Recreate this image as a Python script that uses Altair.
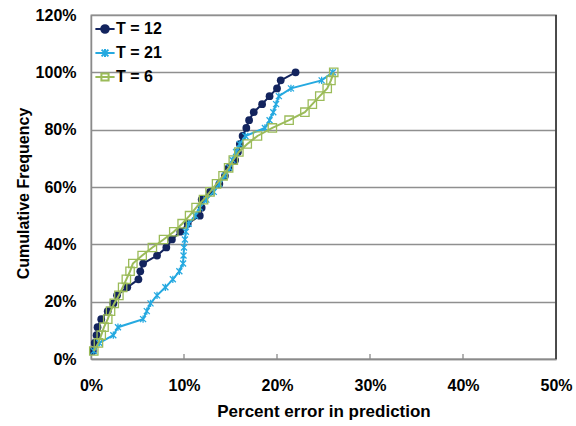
import altair as alt
import pandas as pd

series_names = ["T = 12", "T = 21", "T = 6"]
colors = ["#13245E", "#25A9E0", "#9BBB59"]

# cumulative frequency (%) shared by the three series
cum_freq = [2.8, 5.6, 8.3, 11.1, 13.9, 16.7, 19.4, 22.2, 25.0, 27.8, 30.6, 33.3,
            36.1, 38.9, 41.7, 44.4, 47.2, 50.0, 52.8, 55.6, 58.3, 61.1, 63.9, 66.7,
            69.4, 72.2, 75.0, 77.8, 80.6, 83.3, 86.1, 88.9, 91.7, 94.4, 97.2, 100.0]

# percent error in prediction (%)
err_t12 = [0.2, 0.4, 0.6, 0.7, 1.1, 1.8, 2.4, 2.8, 3.9, 5.1, 5.3, 5.6,
           7.1, 8.1, 8.7, 9.6, 10.4, 11.7, 11.9, 11.9, 12.8, 13.8, 14.4, 14.8,
           15.5, 15.8, 16.0, 16.3, 16.7, 17.0, 17.5, 18.4, 19.2, 20.0, 20.4, 22.0]
err_t21 = [0.3, 0.9, 2.4, 2.9, 5.6, 6.0, 6.4, 7.1, 8.0, 8.8, 9.5, 9.9,
           9.95, 10.0, 10.1, 10.2, 10.5, 11.2, 11.7, 12.4, 13.2, 13.8, 14.4, 14.9,
           15.2, 15.6, 16.0, 16.6, 18.7, 19.2, 19.6, 19.9, 20.2, 21.5, 24.8, 26.0]
err_t6 = [0.3, 0.8, 1.1, 1.4, 1.8, 2.1, 2.5, 3.0, 3.4, 3.8, 4.2, 4.5,
          5.5, 6.6, 7.8, 8.9, 9.8, 10.6, 11.3, 12.1, 12.8, 13.5, 14.2, 14.8,
          15.3, 15.9, 16.8, 17.9, 19.5, 21.3, 23.0, 23.8, 24.6, 25.4, 25.8, 26.1]

x_ticks = [0, 0.1, 0.2, 0.3, 0.4, 0.5]
y_ticks = [0, 0.2, 0.4, 0.6, 0.8, 1.0, 1.2]

rows = []
for name, xs in zip(series_names, [err_t12, err_t21, err_t6]):
    for i, (xv, yv) in enumerate(zip(xs, cum_freq)):
        rows.append({"series": name, "err": xv / 100, "cf": yv / 100, "idx": i})
df = pd.DataFrame(rows)

FONT = "Liberation Sans"
W, H = 465, 344

xscale = alt.Scale(domain=[0, 0.5], nice=False)
yscale = alt.Scale(domain=[0, 1.2], nice=False)

x_axis = alt.Axis(format=".0%", values=x_ticks, title="Percent error in prediction",
                  grid=False, ticks=False, tickSize=0, labelPadding=18, labelFlush=False,
                  domainColor="#8a8a8a", domainWidth=1.5,
                  titleX=W / 2, titleY=57, titleBaseline="alphabetic", titleAlign="center",
                  titleFontSize=17)
y_axis = alt.Axis(format=".0%", values=y_ticks, title="Cumulative Frequency",
                  grid=True, gridColor="#8f8f8f", gridWidth=1.3,
                  ticks=False, tickSize=0, labelPadding=15, labelFlush=False,
                  domainColor="#8a8a8a", domainWidth=1.5,
                  titleX=-63, titleY=H / 2 + 6, titleAngle=-90, titleBaseline="alphabetic",
                  titleAlign="center", titleFontSize=16)

X = alt.X("err:Q", scale=xscale, axis=x_axis)
Y = alt.Y("cf:Q", scale=yscale, axis=y_axis)

asterisk = "M-1,-1L1,1M-1,1L1,-1M0,-1.2L0,1.2"
marks = [
    dict(shape="circle", filled=True, size=60, strokeWidth=1),
    dict(shape=asterisk, filled=False, size=36, strokeWidth=1.3),
    dict(shape="square", filled=False, size=70, strokeWidth=1.3),
]

layers = []
for name, col, mk in zip(series_names, colors, marks):
    base = alt.Chart(df).transform_filter(alt.datum.series == name)
    layers.append(base.mark_line(color=col, strokeWidth=2).encode(x=X, y=Y, order="idx:Q"))
    layers.append(base.mark_point(color=col, opacity=1, **mk).encode(x=X, y=Y))

# inward x ticks
tick_df = pd.DataFrame({"err": x_ticks[1:-1]})
layers.append(alt.Chart(tick_df).mark_rule(color="#8a8a8a", strokeWidth=1.3).encode(
    x=X, y=alt.value(H), y2=alt.value(H - 5)))
# darker right frame
frame_df = pd.DataFrame({"err": [0.5]})
layers.append(alt.Chart(frame_df).mark_rule(color="#404040", strokeWidth=1.8).encode(
    x=X, y=alt.value(0), y2=alt.value(H)))

# legend layer (no marks drawn, only the legend)
leg_paths = [
    "M-2.4,0L2.4,0M-0.95,0A0.95,0.95,0,1,0,0.95,0A0.95,0.95,0,1,0,-0.95,0Z",
    "M-2.4,0L2.4,0M-0.85,-0.85L0.85,0.85M-0.85,0.85L0.85,-0.85M0,-1L0,1",
    "M-2.4,0L2.4,0M-0.9,-0.9L0.9,-0.9L0.9,0.9L-0.9,0.9Z",
]
legend = alt.Legend(title=None, orient="top-left", offset=6, padding=0,
                    symbolSize=64, symbolStrokeWidth=2, symbolOpacity=1, labelFont=FONT,
                    labelFontWeight="bold", labelFontSize=16, labelColor="black",
                    labelOffset=3, rowPadding=8, labelLimit=200)
layers.append(
    alt.Chart(df).transform_filter("datum.cf > 5").mark_point(filled=False, strokeWidth=2, opacity=1).encode(
        x=X, y=Y,
        stroke=alt.Stroke("series:N", scale=alt.Scale(domain=series_names, range=colors), legend=legend),
        fill=alt.Fill("series:N", scale=alt.Scale(domain=series_names,
                                                  range=[colors[0], "transparent", "transparent"])),
        shape=alt.Shape("series:N", scale=alt.Scale(domain=series_names, range=leg_paths)),
    )
)

chart = alt.layer(*layers).properties(
    width=W, height=H,
    autosize=alt.AutoSizeParams(type="none"),
    padding={"left": 91, "top": 15, "right": 20, "bottom": 67},
).configure_view(
    stroke="#8a8a8a", strokeWidth=1.3
).configure_axis(
    labelFont=FONT, labelFontWeight="bold", labelFontSize=16, labelColor="black",
    titleFont=FONT, titleFontWeight="bold", titleColor="black",
)

chart.save("out.html", embed_options={"renderer": "svg", "actions": False})
